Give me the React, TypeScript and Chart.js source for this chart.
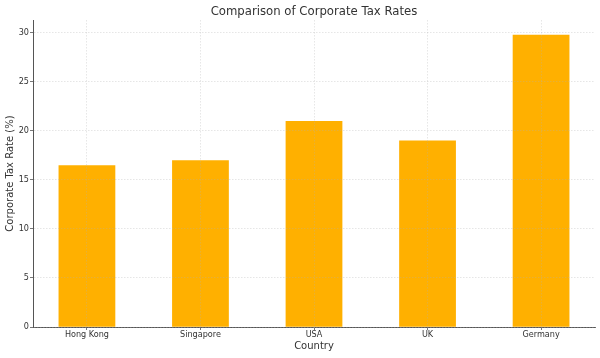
import React, { useEffect, useRef } from "react";
import { Chart, registerables } from "chart.js";

Chart.register(...registerables);

const countries = ["Hong Kong", "Singapore", "USA", "UK", "Germany"];
const taxRates = [16.5, 17, 21, 19, 29.8];
const yTickValues = [0, 5, 10, 15, 20, 25, 30];
const chartTitle = "Comparison of Corporate Tax Rates";
const xAxisTitle = "Country";
const yAxisTitle = "Corporate Tax Rate (%)";

export default function App() {
  const ref = useRef<HTMLCanvasElement>(null);

  useEffect(() => {
    document.body.style.margin = "0";
    const canvas = ref.current;
    if (!canvas) return;
    const family = "'DejaVu Sans', sans-serif";
    const textColor = "#333333";
    const gridColor = "rgba(175,175,175,0.45)";
    const spineColor = "#555555";
    const yMax = Math.max(...taxRates) * 1.05;

    const chart = new Chart(canvas, {
      type: "bar",
      data: {
        datasets: [
          {
            data: taxRates.map((v, i) => ({ x: i, y: v })),
            backgroundColor: "#FFB000",
            borderWidth: 0,
            barPercentage: 0.5,
            categoryPercentage: 1,
          },
        ],
      },
      options: {
        animation: false,
        responsive: false,
        devicePixelRatio: 1,
        layout: { padding: { left: 0, right: 5, top: 0, bottom: 0 } },
        plugins: {
          legend: { display: false },
          tooltip: { enabled: false },
          title: {
            display: true,
            text: chartTitle,
            fullSize: false,
            color: textColor,
            font: { family, size: 11.7, weight: "normal", lineHeight: 1.2 },
            padding: { top: 5, bottom: 1 },
          },
        },
        scales: {
          x: {
            type: "linear",
            min: -0.475,
            max: 4.475,
            offset: false,
            afterBuildTicks: (axis: any) => {
              axis.ticks = countries.map((_, i) => ({ value: i }));
            },
            afterFit: (axis: any) => {
              axis.height = 31;
            },
            ticks: {
              callback: (v: any) => countries[v as number] ?? "",
              color: textColor,
              font: { family, size: 8.1 },
              padding: 0,
              maxRotation: 0,
              autoSkip: false,
            },
            grid: {
              z: 1,
              offset: false,
              color: gridColor,
              lineWidth: 0.7,
              tickColor: spineColor,
              tickLength: 3,
              tickWidth: 0.8,
            },
            border: { display: true, color: spineColor, width: 1, dash: [1.5, 1.5], z: 1 },
            title: {
              display: true,
              text: xAxisTitle,
              color: textColor,
              font: { family, size: 10, lineHeight: 1.2 },
              padding: { top: 0, bottom: 6 },
            },
          },
          y: {
            type: "linear",
            min: 0,
            max: yMax,
            afterBuildTicks: (axis: any) => {
              axis.ticks = yTickValues.map((v) => ({ value: v }));
            },
            afterFit: (axis: any) => {
              axis.width = 33;
            },
            ticks: {
              color: textColor,
              font: { family, size: 8.1 },
              padding: 1,
            },
            grid: {
              z: 1,
              color: gridColor,
              lineWidth: 0.7,
              tickColor: spineColor,
              tickLength: 3,
              tickWidth: 0.8,
            },
            border: { display: true, color: spineColor, width: 1, dash: [1.5, 1.5], z: 1 },
            title: {
              display: true,
              text: yAxisTitle,
              color: textColor,
              font: { family, size: 10, lineHeight: 1.2 },
              padding: { top: 4, bottom: 0 },
            },
          },
        },
      },
    });

    return () => chart.destroy();
  }, []);

  return (
    <div style={{ width: 600, height: 358 }}>
      <canvas ref={ref} width={600} height={358} style={{ display: "block" }} />
    </div>
  );
}
